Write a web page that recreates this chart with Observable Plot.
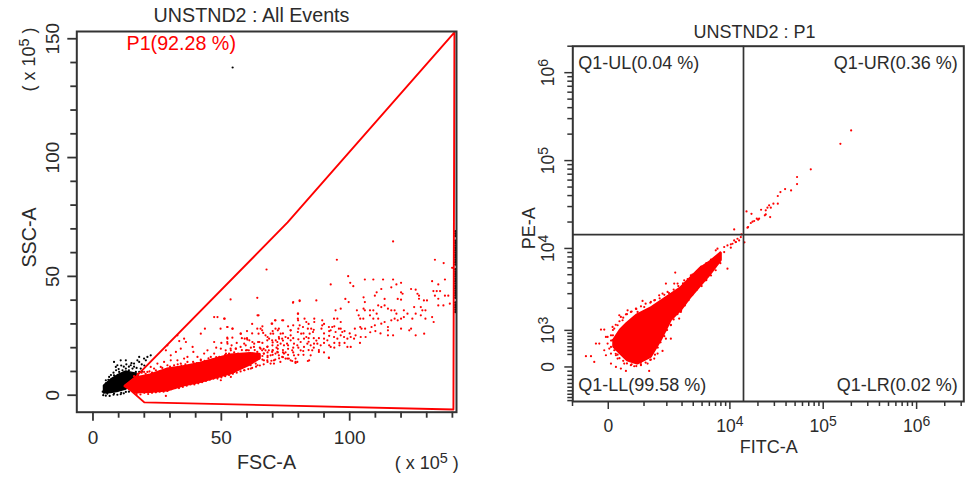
<!DOCTYPE html>
<html><head><meta charset="utf-8">
<style>html,body{margin:0;background:#fff}#c{position:relative;width:972px;height:480px;overflow:hidden}#c svg{position:absolute;top:0;background:transparent;font-family:"Liberation Sans",Arial,sans-serif}</style>
<script src="https://cdn.jsdelivr.net/npm/d3@7"></script>
<script src="https://cdn.jsdelivr.net/npm/@observablehq/plot@0.6"></script>
</head><body><div id="c"></div>
<script>
// ---------- Left panel: FSC-A / SSC-A (x 10^5)
const fscMajor=[0,50,100];
const fscMinor=[10,20,30,40,60,70,80,90,110,120,130,140];
const sscMajor=[0,50,100,150];
const sscMinor=[10,20,30,40,60,70,80,90,110,120,130,140];
const gateP1=[[13,3.7],[75.8,72.7],[140.8,152.7],[140.4,-6],[20,-3],[13,3.7]];
// dense cores as envelopes [x, low, high]
const redCore=[[12.7,3.7,3.7],[16.6,1.1,7],[22.4,1.3,8.3],[29,2,10.8],[35.3,4.1,11.8],[41.9,5.5,13.3],[53.6,9.1,16.7],[61.4,13,17.3],[65,15.5,17]];
const blackCore=[[4.3,.7,4],[7,.9,6.5],[10,1.5,8.5],[13,2.4,10],[15,4,9.5],[17,6,9]];
const blackEvents=[[54.4,137.9],[8.2,14],[10.8,14.7],[12.8,14.7],[8.9,11.9],[9.5,12.6],[16,13.3],[18,16.1],[19.9,15.4],[21.2,16.1],[22.5,16.8],[20.6,14.7],[17.3,14.7],[15.4,11.2],[18.6,11.2],[16.7,9.8],[14,10.5],[11.5,10.5],[8.2,8.4],[6.3,7.7],[5,6.3],[6.9,5.6],[4.3,3.5],[4,0],[5.6,.7],[8.2,.7],[10.8,.4],[12.8,1.4],[14,2.8],[9.8,2.1],[16,1.8],[10.2,9.8],[12.8,11.2],[14.7,12.6],[8.9,7],[10.8,7.7],[12.8,8.4],[15.4,8.4],[18,9.8],
[5,5],[6,6.5],[7,8.5],[8,9.5],[9,10.5],[10,11],[11,12.5],[12,12],[13,13],[14,12],[15,13.5],[16,12],[17,11.5],[19,13],[20,12.5],[18,14],[4.5,2],[3.8,1.5],[5,-.2],[6.5,-.3],[8,.2],[9.5,.2],[11,1],[12,.8],[14,1.5],[15,2.5],[17,3],[16.5,8],[17.5,8],[19,10]];
const blackEdgeY=[35,36,37,38,39,41,42,43,44,45,46,47,48,49,50,51,52,53,55,56,57,58,59,60,61,62,63,64,65,67,68,69];
const redEvents=[[116.9,64.7],[95,57],[67.6,52.9],[133.2,57],[136.6,55.6],[139.9,53.6],[99.4,50.1],[105.9,48.7],[109.2,48.7],[113,48.7],[116.9,48.7],[100.2,47.3],[101.4,45.9],[92.6,46.6],[118.2,46.6],[120,47.3],[112.3,44.7],[116.2,45.4],[120,43.3],[120.6,42.7],[123.9,44.7],[125.7,44.4],[110.5,43.3],[109.8,41.9],[113.6,40.5],[78,39.2],[80.5,39.9],[87,39.9],[98.3,40.5],[99.6,39.2],[105.4,41.2],[105.9,39.2],[118.7,40.5],[120,40.2],[126.4,42.7],[127,41.9],[127,40.6],[132.1,48],[134.5,46.6],[137.1,48.7],[132.6,43.8],[133.9,43.8],[135.2,43.8],[133.2,41.9],[134.5,40.6],[137.1,41.9],[138.4,41.9],[136.5,37.8],[134.5,37.8],[139,38.5],[96.5,36.4],[94.5,35.7],[95.2,32.2],[93.9,32.2],[79.8,34.3],[102.8,35.7],[105.4,36.4],[105.9,35.7],[107.9,35.7],[109.2,35.7],[111.1,37.8],[112.3,37.1],[113.6,37.8],[114.9,36.4],[116.2,35.7],[117.5,35.7],[118.2,34.3],[110.5,34.3],[109.2,32.2],[111.1,32.2],[107.9,33.6],[103.5,33.6],[104.1,32.2],[105.3,32.2],[112.3,30.1],[113.6,30.8],[114.9,28.7],[116.2,31.5],[117.5,32.2],[118.7,31.5],[120,32.2],[121.1,35.7],[122.5,34.3],[121.1,32.9],[125.1,37.1],[125.7,34.3],[124.4,32.2],[127.7,37.1],[128.9,39.9],[130.1,39.9],[128.3,35.7],[129.5,35.7],[127.7,33.6],[129.5,32.2],[132.1,32.9],[132.7,30.8],[123.9,28],[120,28],[123.2,27.3],[114.9,27.3],[114.9,25.2],[116.9,25.2],[125.7,25.2],[129,25.9],[108.5,28.7],[109.8,29.4],[104.1,28.7],[104.6,28],[96.5,30.8],[96.5,28],[97.1,26.6],[96.5,25.2],[94.5,26.6],[95.8,28],[93.2,28.7],[91.9,28.7],[92.6,27.3],[89.3,31.5],[89.3,29.4],[89,28],[86.2,32.2],[86.2,30.8],[82.4,32.2],[83.1,30.8],[79.8,32.2],[80.5,29.4],[81.8,28.7],[83.7,28],[85,28],[85.7,26.6],[84.4,25.9],[83.1,24.5],[81.1,25.9],[79.8,26.6],[77,27.3],[77,25.2],[75,24.5],[73.7,23.8],[72.4,24.5],[71.1,31.5],[73.7,31.5],[69.8,30.1],[71.1,28],[72.4,28],[69.2,25.9],[65.9,27.3],[67.2,25.2],[67.9,23.1],[69.8,23.1],[71.8,22.4],[73.1,21.7],[74.4,21],[75.6,21.7],[77,23.1],[78.3,21.7],[79.6,21],[80.9,22.4],[82.2,23.8],[83.5,21.7],[84.8,21],[86.1,21.7],[87.4,21.7],[88.7,21],[90,23.8],[91.3,23.1],[92.6,20.3],[93.9,24.5],[95.2,23.8],[97.8,24.5],[99.1,23.8],[100.4,24.5],[102.3,25.2],[101.7,23.8],[104.3,24.5],[106.2,24.5],[99.1,20.3],[100.4,20.3],[85.4,18.9],[84.8,16.8],[83.7,14.4],[91.9,15.7],[77.6,18.9],[78.3,16.8],[76.3,15.4],[78.9,15.4],[79.6,14],[82.2,20.3],[80.9,18.9],[81.9,18.6],[75,15.4],[73.7,16.1],[72.4,16.8],[71.1,17.5],[69.8,18.2],[68.5,18.9],[67.2,18.9],[65.9,18.9],[66.5,17.5],[69.2,13.3],[70.5,13.3],[73,14],[67.9,14.7],[78.9,13.6],[77.6,14.4],
[53.6,40.3],[64,41],[77.9,38.9],[80.5,39.6],[51.3,32.2],[64.5,33.6],[79.9,34.3],[74.1,31.5],[70.9,31.5],[69.6,30.1],[52.3,28.7],[54.3,28],[49.7,28],[64,28],[65.3,28],[66.3,26.2],[64.5,25.9],[57.5,25.9],[70.2,25.9],[72,27.3],[73.1,25.9],[77,27.3],[78,29.4],[79.9,31.5],[52.3,24.2],[54.3,24.2],[52.3,22.4],[59.1,23.8],[60.1,23.4],[64.3,22.4],[68.6,23.8],[71.2,23.1],[72.5,23.8],[62.1,22.4],[59.5,21],[57.5,20.3],[55.6,19.6],[53.6,19.6],[51.7,18.9],[62.7,20.3],[65.3,19.6],[67.9,20.3],[69.9,21],[60.7,18.9],[64,18.2],[66.6,17.5],[69.2,16.8],[71.8,18.2],[74.4,17.5],[75.7,15.4],[77,14.7],[78.9,14],[70.5,14.7],[66.6,14.7],[63.4,13.3],[61.4,12.6],[59.5,12.6],[56.9,12.2],[54.9,11.9],[84.2,14.7],[88,18.2],[91.9,15.8],
[32.9,25.2],[33.6,22.8],[35.5,23.8],[36.2,22.4],[38.8,20.3],[39.1,18.2],[43.6,28],[42,25.9],[47.2,32.9],[51.1,32.2],[48.5,32.9],[52.4,28.7],[54.4,28],[57.6,25.9],[52.4,23.8],[52.4,21.7],[47.2,22.4],[49.8,19.6],[29,21],[28.4,18.9],[30.3,16.8],[32.3,18.2],[34.2,19.6],[36.8,16.1],[40.7,16.1],[43.3,17.5],[44.6,18.9],[47.2,17.5],[49.2,16.1],[51.8,17.5],[53.7,18.9],[55.7,19.6],[58.9,21.7],[60.9,23.1],[62.8,21.7],[64.8,22.4],[64.1,33.6],[19.9,9.8],[22.5,11.9],[25.1,13.3],[27.7,14],[30.3,14.7],[32.9,14.7],[35.5,15.4],[39.4,13.3],[18.6,7],[21.2,9.8],[23.8,11.2],[26.4,11.9],[29,12.6],[31.6,12.6],[34.2,13.3],[36.8,14],[42,14.7],[45.9,16.1],[48.5,14.7],[28.4,-.3],[19.9,2.1],[22.5,2.1],[25.1,2.8],[29,4.2],[32.9,4.9],[36.8,5.6],[40.7,6.3],[44.6,7],[48.5,7.7],[53.7,7.7],[49.8,6.3],[55,9.8],[58.9,10.5],[61.5,11.2],[60.2,14],[64.1,12.6],[57.6,12.6],[59.6,18.9],[62.2,17.5],[55,16.1],[64.8,15.4],
[16,8],[17.5,9],[19,9.5],[20.5,9],[22,10],[23,9.5],[24.5,10.5],[26,10],[27,11.5],[28.5,11],[30,12],[31.5,11.5],[33,13],[34.5,12.5],[36,13],[37.5,12.5],[39,14],[40.5,13.5],[42,15],[43.5,14.5],[45,15.5],[46.5,15],[48,16],[50,16],[51.5,17],[53,17.5],[55,18],[56.5,17.5],[58,19],[60,19],[61.5,20],[63,19],[65,20],[66.5,19.5],[68,20.5],[70,19],[71.5,20],
[17,.5],[18.5,.3],[20,1],[21.5,.5],[23,1],[24.5,1.2],[26,1.5],[27.5,1.5],[29,1.8],[30.5,2.5],[32,3],[33.5,3],[35,3.5],[36.5,4],[38,4.5],[39.5,4.5],[41,5],[42.5,5.5],[44,6],[45.5,6.5],[47,7],[48.5,7],[50,7.5],[51.5,8],[53,8.5],[54.5,9],[56,9.5],[57.5,10],[59,10.5],[60.5,11],[62,11.5],[63.5,12],[65,12.5],[66.5,13],[68,14],[69.5,14.5],[71,15],[72.5,15.5],[74,16],
[68,16],[70,17],[72,18],[74,19],[76,19.5],[74,18],[76,17],[78,18],[80,20],[82,17],[84,19],[86,20],[88,19],[90,18],[92,21],[94,20],[96,22],[98,22],
[60,24],[62,26],[66,22],[68,24.5],[70,22.2],[72,21],[74,23],[76,24],[78,24],[80,23.5],[82,26],[84,24],[86,24],[88,24],[90,26],[92,25],[94,22],[96,21],[98,27],[100,26],[102,28],[104,22],[106,28],[108,26.5],[110,27],[112,26],[76,21],[78,20],[72,19.5],[70,18.8],[68,18],[66,16.5],[64,16],[63,15],[66,15],[68,16.6],[62,14],[75,18],[80,17],[84,22.5],[87,23],[90,22],[92,27],[94,29],[90,30],[86,27.5],[84,30],[80,28],[76,29],[74,26],[70,27],[66,29],[62,30],[60,27],[58,24],[56,22],[54,21],[50,22],[48,20]];

// ---------- Right panel: FITC-A / PE-A, biexponential channels
const fitcCofactor=1000, peCofactor=900;
const fitcMajor=[0,1e4,1e5,1e6];
const fitcMajorLabels=["0","10^4","10^5","10^6"];
const fitcMinor=[-1000,1000,2000,3000,4000,5000,6000,7000,8000,9000,2e4,3e4,4e4,5e4,6e4,7e4,8e4,9e4,2e5,3e5,4e5,5e5,6e5,7e5,8e5,9e5,2e6,3e6];
const peMajor=[0,1e3,1e4,1e5,1e6];
const peMajorLabels=["0","10^3","10^4","10^5","10^6"];
const peMinor=[-900,-800,-700,-600,-500,-400,-300,-200,-100,300,400,500,600,700,800,900,2000,3000,4000,5000,6000,7000,8000,9000,2e4,3e4,4e4,5e4,6e4,7e4,8e4,9e4,2e5,3e5,4e5,5e5,6e5,7e5,8e5,9e5,2e6];
const fitcGate=14000, peGate=14400;
const fitcPeCore=[[.064,.228,.304],[.135,.152,.417],[.207,.076,.493],[.314,.038,.588],[.456,.114,.663],[.563,.304,.739],[.67,.531,.815],[.777,.645,.891],[.884,.796,1.004],[.991,.929,1.118],[1.098,1.061,1.194],[1.205,1.213,1.288]];
const fitcPeEvents=[[2.6,2.69],[2.485,2.538],[2.168,2.247],[2.021,2.16],[2.021,2.08],[1.957,2.008],[1.893,2.023],[1.843,1.989],[1.815,1.944],[1.815,1.857],[1.768,1.857],[1.722,1.838],[1.74,1.811],[1.704,1.811],[1.686,1.781],[1.636,1.788],[1.686,1.735],[1.676,1.724],[1.733,1.705],[1.615,1.686],[1.59,1.686],[1.604,1.675],[1.562,1.66],[1.544,1.652],[1.526,1.637],[1.49,1.584],[1.48,1.769],[1.426,1.508],[1.458,1.417],
[1.533,1.742],[1.497,1.591],[1.348,1.564],[1.419,1.477],[1.383,1.458],[1.348,1.439],[1.33,1.401],[1.241,1.364],[1.169,1.345],[1.276,1.382],[1.365,1.42],[1.401,1.439],[1.312,1.356],
[-.239,.122],[-.185,.122],[-.15,.057],[-.132,.266],[-.096,.266],[-.078,.425],[-.043,.425],[-.025,.341],[-.007,.266],[.011,.209],[.029,.152],[-.043,.19],[-.025,.133],[.029,.038],[.082,0],[.135,-.018],[.189,-.045],[.278,.008],[.349,.031],[.438,-.045],[.421,.038],[.492,.095],[.581,.182],[.51,.228],[.545,.304],[.617,.322],[.67,.322],[.759,.55],[.717,1.073],[.617,.948],[.706,.948],[.545,.815],[.456,.739],[.367,.751],[.296,.663],[.207,.644],[.118,.588],[.153,.531],[.1,.474],[.046,.455],[.029,.36],[.064,.436],[.135,.569],[.189,.599],[.242,.626],[.314,.626],[.385,.682],[.492,.758],[.581,.834],[.635,.853],[.742,.948],[.813,.985],[.884,1.042],[.938,1.061],[.991,1.137],[1.045,1.167],[1.098,1.213],[1.169,1.251],[1.241,1.307],[1.276,1.118],[1.151,1.326],[1.312,1.395],[1.365,1.421],[1.045,.985],[.991,.948],[.92,.891],[.848,.777],[.777,.626],[.67,.474],[.617,.417],[.563,.341],[.528,.152],[.456,.084],[.349,.057],[.242,.02],[.171,.038],[.1,.095],[.082,.133],[.064,.19],[.046,.304],[.029,.228],[-.007,.341],
[.08,.48],[.12,.52],[.16,.56],[.2,.6],[.25,.63],[.3,.66],[.35,.69],[.4,.72],[.45,.73],[.5,.76],[.55,.78],[.6,.82],[.65,.84],[.7,.88],[.75,.92],[.8,.95],[.85,1],[.9,1.05],[.95,1.09],[1,1.14],[1.05,1.18],[1.1,1.22],[1.15,1.25],[1.2,1.3],
[.08,.15],[.12,.1],[.16,.07],[.2,.04],[.25,.03],[.3,.01],[.35,.02],[.4,.05],[.45,.08],[.5,.14],[.53,.22],[.56,.28],[.6,.35],[.63,.42],[.67,.48],[.7,.54],[.74,.6],[.78,.64],[.82,.7],[.86,.76],[.9,.82],[.95,.88],[1,.92],[1.05,.99],[1.1,1.04],[1.15,1.1],[1.2,1.18],
[.03,.3],[.05,.36],[.06,.25],[.08,.2],[.05,.42],[.1,.14]];

const RED="#ff0000", INK="#2b2b2b", FRAME="#333333";
const bx=v=>Math.asinh(v/fitcCofactor)/Math.LN10;
const by=v=>Math.asinh(v/peCofactor)/Math.LN10;
const px=d=>d[0], py=d=>d[1];
const blank=()=>"";

function supers(svg){
  d3.select(svg).selectAll("text").each(function(){
    const s=this.textContent, m=/^(.*)\^(\d)(.*)$/.exec(s);
    if(!m) return;
    const t=d3.select(this); t.text(null);
    t.append("tspan").text(m[1]);
    t.append("tspan").attr("dy","-6").style("font-size","0.8em").text(m[2]);
    if(m[3]) t.append("tspan").attr("dy","6").text(m[3]);
  });
  return svg;
}
function note(text,opts){return Plot.text([text],{text:d=>d,lineWidth:100,fill:INK,fontSize:18,...opts});}

const left=Plot.plot({
  width:486,height:480,marginLeft:76.3,marginRight:30,marginTop:31,marginBottom:68.3,
  x:{domain:[-6.3,141.6]},y:{domain:[-7.15,153.05]},
  marks:[
    Plot.areaY(blackCore,{x:d=>d[0],y1:d=>d[1],y2:d=>d[2],fill:"#000",stroke:"#000",strokeWidth:1.5}),
    Plot.dot(blackEvents,{x:px,y:py,r:1.1,fill:"#000"}),
    Plot.areaY(redCore,{x:d=>d[0],y1:d=>d[1],y2:d=>d[2],fill:RED,stroke:RED,strokeWidth:3}),
    Plot.dot(redEvents,{x:px,y:py,r:1.1,fill:RED}),
    Plot.dot(blackEdgeY,{x:()=>141.2,y:d=>d,r:1.3,fill:"#000"}),
    Plot.line(gateP1,{x:px,y:py,stroke:RED,strokeWidth:1.9}),
    Plot.frame({stroke:FRAME,strokeWidth:2}),
    Plot.axisX({ticks:fscMajor,tickSize:9,tickPadding:9,fontSize:19,stroke:FRAME,strokeWidth:1.8,color:INK,label:null}),
    Plot.axisX({ticks:fscMinor,tickSize:6,tickFormat:blank,stroke:FRAME,strokeWidth:1.8,label:null}),
    Plot.axisY({ticks:sscMajor,tickSize:9,tickPadding:9,tickRotate:-90,fontSize:19,stroke:FRAME,strokeWidth:1.8,color:INK,label:null}),
    Plot.axisY({ticks:sscMinor,tickSize:6,tickFormat:blank,stroke:FRAME,strokeWidth:1.8,label:null}),
    note("UNSTND2 : All Events",{frameAnchor:"top-left",dx:174.7,dy:-24,textAnchor:"middle",fontSize:19.7}),
    note("P1(92.28 %)",{frameAnchor:"top-left",dx:49.7,dy:4,textAnchor:"start",fill:RED,fontSize:19.7}),
    note("FSC-A",{frameAnchor:"bottom-left",dx:189.7,dy:57,textAnchor:"middle",fontSize:19.7}),
    note("( x 10^5 )",{frameAnchor:"bottom-left",dx:318,dy:57,textAnchor:"start",fontSize:18}),
    note("SSC-A",{frameAnchor:"top-left",dx:-55,dy:206,rotate:-90,textAnchor:"middle",fontSize:19.7}),
    note("( x 10^5 )",{frameAnchor:"top-left",dx:-55,dy:60,rotate:-90,textAnchor:"start",fontSize:18})
  ]
});
const right=Plot.plot({
  width:486,height:480,marginLeft:86.3,marginRight:8.7,marginTop:45.7,marginBottom:79,
  x:{domain:[bx(-990),bx(3.2e6)]},y:{domain:[by(-930),by(2e6)]},
  marks:[
    Plot.areaY(fitcPeCore,{x:d=>d[0],y1:d=>d[1],y2:d=>d[2],fill:RED,stroke:RED,strokeWidth:3}),
    Plot.dot(fitcPeEvents,{x:px,y:py,r:1.1,fill:RED}),
    Plot.ruleX([bx(fitcGate)],{stroke:FRAME,strokeWidth:1.7}),
    Plot.ruleY([by(peGate)],{stroke:FRAME,strokeWidth:1.7}),
    Plot.frame({stroke:FRAME,strokeWidth:2}),
    Plot.axisX({ticks:fitcMajor.map(bx),tickFormat:(d)=>fitcMajorLabels[fitcMajor.map(bx).indexOf(d)],tickSize:8,tickPadding:10,fontSize:17.5,stroke:FRAME,strokeWidth:1.5,color:INK,label:null}),
    Plot.axisX({ticks:fitcMinor.map(bx),tickSize:5,tickFormat:blank,stroke:FRAME,strokeWidth:1.5,label:null}),
    Plot.axisY({ticks:peMajor.map(by),tickFormat:(d)=>peMajorLabels[peMajor.map(by).indexOf(d)],tickSize:8,tickPadding:11,tickRotate:-90,fontSize:17.5,stroke:FRAME,strokeWidth:1.5,color:INK,label:null}),
    Plot.axisY({ticks:peMinor.map(by),tickSize:5,tickFormat:blank,stroke:FRAME,strokeWidth:1.5,label:null}),
    note("UNSTND2 : P1",{frameAnchor:"top-left",dx:181.7,dy:-21,textAnchor:"middle"}),
    note("Q1-UL(0.04 %)",{frameAnchor:"top-left",dx:5.5,dy:10,textAnchor:"start"}),
    note("Q1-UR(0.36 %)",{frameAnchor:"top-right",dx:-6,dy:10,textAnchor:"end"}),
    note("Q1-LL(99.58 %)",{frameAnchor:"bottom-left",dx:5.5,dy:-11,textAnchor:"start"}),
    note("Q1-LR(0.02 %)",{frameAnchor:"bottom-right",dx:-6,dy:-11,textAnchor:"end"}),
    note("FITC-A",{frameAnchor:"bottom-left",dx:196,dy:51,textAnchor:"middle"}),
    note("PE-A",{frameAnchor:"top-left",dx:-51,dy:182,rotate:-90,textAnchor:"middle"})
  ]
});
const c=document.getElementById("c");
supers(left);supers(right);
left.style.left="0px";right.style.left="486px";
c.append(left,right);
</script></body></html>
